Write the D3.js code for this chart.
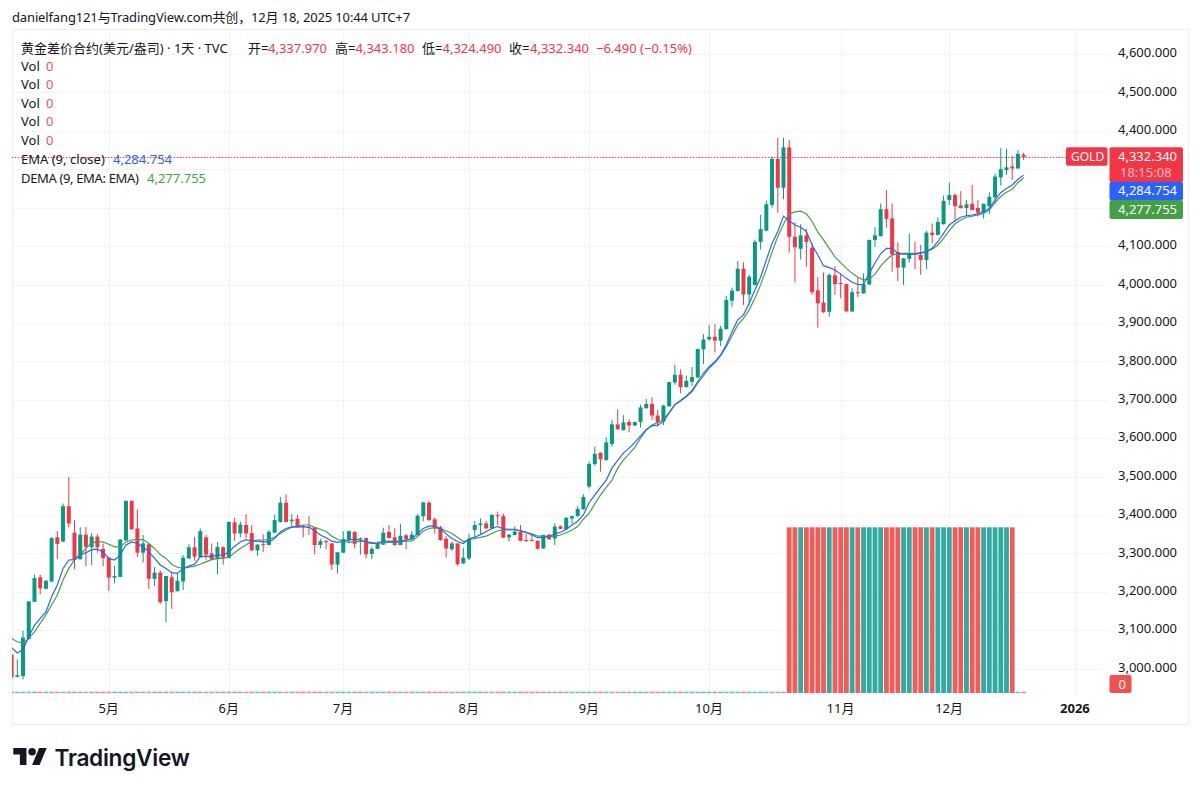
<!DOCTYPE html>
<html>
<head>
	<meta charset="utf-8">
	<title>GOLD 1D</title>
	<script type="text/javascript" src="https://cdn.jsdelivr.net/npm/d3@7"></script>
	<style type="text/css">
		html, body {
			margin: 0;
			background: #ffffff;
		}
		text {
			font-family: "Noto Sans", "Noto Sans CJK SC", sans-serif;
			font-size: 13px;
			fill: #131722;
		}
		.axis path {
			display: none;
		}
		.axis line {
			display: none;
		}
	</style>
</head>
<body>
	<div id="chart"></div>
	<script type="text/javascript">
		const opens = [
			3037,2979,2981,3077,3174,3238,3208,3227,3342,3331,
			3423,3354,3285,3349,3316,3344,3312,3289,3237,3239,
			3334,3437,3365,3302,3324,3234,3250,3176,3238,3202,
			3227,3287,3316,3291,3342,3300,3285,3316,3288,3381,
			3352,3374,3353,3308,3324,3322,3354,3382,3432,3384,
			3390,3371,3369,3368,3322,3332,3326,3271,3302,3335,
			3356,3337,3340,3299,3312,3323,3356,3342,3322,3347,
			3337,3348,3397,3432,3389,3368,3338,3311,3326,3274,
			3287,3361,3374,3378,3365,3400,3397,3342,3348,3357,
			3335,3335,3333,3313,3349,3339,3371,3363,3391,3397,
			3415,3474,3533,3562,3543,3585,3636,3621,3642,3633,
			3642,3678,3689,3659,3643,3683,3745,3765,3733,3747,
			3758,3831,3857,3864,3854,3884,3958,3983,4041,3974,
			3999,4111,4140,4207,4327,4252,4357,4124,4093,4128,
			4096,3985,3953,3929,4024,4004,4001,3930,3980,3977,
			4000,4116,4126,4196,4172,4085,4044,4067,4081,4077,
			4064,4135,4129,4157,4220,4233,4206,4199,4210,4199,
			4187,4204,4227,4279,4298,4307,4302,4337.97
		];
		const highs = [
			3037,3024,3099,3176,3245,3245,3231,3342,3358,3430,
			3499,3387,3368,3369,3353,3350,3326,3290,3268,3338,
			3437,3437,3415,3348,3326,3265,3255,3242,3252,3248,
			3296,3324,3343,3365,3348,3326,3330,3319,3383,3393,
			3383,3402,3374,3324,3350,3361,3400,3447,3454,3402,
			3400,3374,3397,3369,3338,3335,3327,3304,3358,3360,
			3358,3342,3341,3318,3331,3367,3374,3365,3377,3351,
			3358,3403,3434,3437,3394,3372,3345,3331,3327,3315,
			3351,3384,3391,3385,3403,3409,3404,3350,3370,3374,
			3351,3348,3334,3349,3351,3378,3373,3394,3398,3423,
			3454,3539,3578,3563,3602,3648,3675,3660,3649,3643,
			3687,3702,3707,3674,3687,3747,3791,3779,3763,3785,
			3833,3871,3895,3897,3892,3971,3992,4061,4058,4025,
			4117,4181,4218,4333,4382,4382,4376,4162,4157,4145,
			4107,4019,4031,4029,4048,4029,4002,3990,4019,4029,
			4117,4149,4211,4246,4211,4110,4069,4133,4112,4103,
			4140,4159,4175,4232,4265,4237,4243,4220,4259,4220,
			4211,4240,4289,4355,4353,4335,4350,4343.18
		];
		const lows = [
			2977,2977,2972,3076,3174,3194,3207,3226,3285,3329,
			3368,3259,3284,3267,3270,3302,3267,3202,3222,3238,
			3332,3361,3290,3276,3208,3216,3169,3121,3156,3200,
			3205,3286,3281,3290,3284,3283,3246,3271,3287,3333,
			3342,3340,3307,3294,3304,3321,3353,3380,3381,3371,
			3366,3342,3348,3298,3313,3311,3257,3248,3301,3326,
			3313,3297,3287,3285,3311,3322,3339,3319,3321,3311,
			3336,3347,3384,3384,3352,3333,3289,3307,3268,3273,
			3283,3337,3351,3364,3364,3374,3340,3331,3347,3332,
			3331,3332,3311,3312,3336,3322,3363,3362,3378,3396,
			3414,3469,3528,3513,3542,3578,3622,3620,3615,3632,
			3628,3677,3648,3630,3634,3682,3739,3717,3732,3736,
			3757,3793,3854,3823,3840,3883,3942,3982,3947,3947,
			3998,4091,4139,4200,4187,4222,4083,4006,4065,4046,
			3973,3888,3926,3916,3973,3964,3929,3929,3967,3976,
			3999,4098,4125,4148,4033,4009,3999,4057,4040,4025,
			4040,4107,4128,4156,4207,4164,4198,4178,4193,4177,
			4172,4184,4211,4257,4285,4272,4301,4324.49
		];
		const closes = [
			2977,2983,3081,3175,3236,3209,3229,3340,3325,3423,
			3378,3284,3349,3317,3344,3316,3288,3237,3241,3336,
			3437,3363,3302,3326,3234,3250,3173,3241,3199,3229,
			3289,3316,3292,3358,3297,3284,3317,3289,3382,3352,
			3375,3352,3308,3323,3322,3356,3387,3432,3382,3388,
			3368,3369,3368,3322,3332,3329,3271,3303,3338,3358,
			3325,3339,3298,3312,3326,3354,3340,3322,3346,3337,
			3349,3398,3433,3387,3365,3335,3313,3326,3272,3289,
			3338,3374,3378,3365,3400,3397,3341,3349,3357,3333,
			3332,3333,3312,3348,3337,3370,3364,3393,3397,3416,
			3447,3533,3559,3545,3589,3636,3623,3641,3633,3642,
			3680,3689,3659,3641,3685,3746,3765,3733,3749,3759,
			3832,3857,3864,3854,3885,3960,3984,4041,3974,4020,
			4111,4144,4209,4327,4252,4357,4124,4097,4128,4111,
			3980,3951,3928,4025,4001,4001,3930,3980,3977,4001,
			4116,4128,4196,4171,4079,4044,4068,4081,4078,4064,
			4135,4129,4163,4218,4233,4204,4199,4209,4194,4187,
			4210,4228,4281,4300,4305,4302,4340,4332.34
		];
		const ema = [
			3055,3041,3050,3083,3113,3131,3148,3187,3218,3261,
			3283,3284,3296,3302,3310,3311,3304,3287,3283,3296,
			3322,3330,3326,3317,3304,3287,3270,3261,3250,3248,
			3261,3267,3272,3291,3293,3291,3296,3296,3304,3319,
			3330,3336,3332,3332,3330,3330,3339,3356,3365,3369,
			3369,3370,3368,3359,3348,3341,3332,3329,3331,3335,
			3337,3335,3329,3326,3327,3332,3332,3331,3332,3335,
			3338,3351,3365,3371,3372,3364,3351,3339,3331,3326,
			3338,3342,3349,3357,3365,3370,3364,3363,3363,3359,
			3355,3348,3341,3342,3344,3351,3355,3363,3374,3384,
			3400,3432,3452,3472,3491,3522,3542,3561,3574,3589,
			3606,3623,3632,3634,3643,3665,3687,3698,3710,3724,
			3747,3769,3786,3799,3817,3843,3877,3908,3921,3951,
			3986,4019,4064,4107,4138,4178,4166,4155,4149,4138,
			4103,4077,4049,4044,4038,4027,4016,4006,4000,4000,
			4029,4056,4080,4094,4094,4081,4079,4079,4079,4081,
			4086,4094,4112,4133,4155,4166,4175,4179,4181,4184,
			4190,4198,4220,4239,4250,4259,4274,4284.754
		];
		const dema = [
			3079,3070,3066,3079,3096,3118,3140,3166,3192,3231,
			3261,3283,3296,3313,3328,3330,3330,3324,3317,3317,
			3330,3335,3336,3336,3326,3313,3297,3287,3272,3264,
			3261,3264,3267,3272,3278,3284,3287,3287,3290,3302,
			3313,3322,3332,3335,3335,3336,3343,3352,3361,3368,
			3371,3374,3374,3368,3363,3357,3345,3337,3331,3329,
			3331,3332,3331,3328,3326,3328,3329,3329,3331,3332,
			3332,3344,3358,3365,3367,3364,3359,3352,3342,3331,
			3335,3339,3342,3345,3352,3359,3361,3361,3361,3359,
			3355,3351,3345,3345,3344,3345,3348,3354,3361,3370,
			3389,3404,3429,3452,3472,3491,3522,3543,3559,3576,
			3600,3621,3634,3641,3648,3667,3687,3697,3708,3721,
			3743,3762,3782,3797,3814,3838,3866,3895,3912,3934,
			3964,3999,4040,4085,4125,4157,4184,4189,4191,4184,
			4164,4137,4116,4094,4072,4057,4042,4029,4019,4012,
			4014,4027,4048,4064,4077,4079,4081,4081,4081,4083,
			4086,4092,4103,4120,4140,4158,4168,4175,4178,4181,
			4185,4194,4213,4229,4240,4248,4265,4277.755
		];
		const volume = [
			0,0,0,0,0,0,0,0,0,0, 0,0,0,0,0,0,0,0,0,0,
			0,0,0,0,0,0,0,0,0,0, 0,0,0,0,0,0,0,0,0,0,
			0,0,0,0,0,0,0,0,0,0, 0,0,0,0,0,0,0,0,0,0,
			0,0,0,0,0,0,0,0,0,0, 0,0,0,0,0,0,0,0,0,0,
			0,0,0,0,0,0,0,0,0,0, 0,0,0,0,0,0,0,0,0,0,
			0,0,0,0,0,0,0,0,0,0, 0,0,0,0,0,0,0,0,0,0,
			0,0,0,0,0,0,0,0,0,0, 0,0,0,0,0,0,
			1,1,1,1,1,1,1,1,1,1, 1,1,1,1,1,1,1,1,1,1,
			1,1,1,1,1,1,1,1,1,1, 1,1,1,1,1,1,1,1,1,1,
			0,0
		];
		const gridTicks = [3000,3100,3200,3300,3400,3500,3600,3700,3800,3900,4000,4100,4200,4300,4400,4500,4600];
		const priceTicks = [3000,3100,3200,3300,3400,3500,3600,3700,3800,3900,4000,4100,4400,4500,4600];
		const timeTicks = [17,38,58,80,101,122,145,164,186];
		const timeLabels = ["5月","6月","7月","8月","9月","10月","11月","12月","2026"];
		const legendVolCount = [0,0,0,0,0];

		const UP = "#089981";
		const DOWN = "#f23645";
		const VOL_UP = "#26a69a";
		const VOL_DOWN = "#ef5350";
		const BLUE = "#2962ff";
		const GREEN = "#43a047";
		const GRID = "#f2f3f5";
		const BORDER = "#eceef1";

		const width = 1200;
		const height = 791;
		const frame = {left: 12, top: 29, right: 1188, bottom: 724};
		const plot = {left: 12, top: 29, right: 1108.5, bottom: 697};

		const x = d3.scaleLinear().domain([0, 186]).range([11.6, 1075.1]);
		const y = d3.scaleLinear().domain([3000, 4600]).range([668.7, 54]);
		const yVol = d3.scaleLinear().domain([0, 1]).range([693, 527.3]);

		const svg = d3.select("#chart").append("svg")
			.attr("width", width)
			.attr("height", height)
			.style("display", "block");

		svg.append("text")
			.attr("x", 12)
			.attr("y", 22)
			.style("letter-spacing", "-0.14px")
			.text("danielfang121与TradingView.com共创，12月 18, 2025 10:44 UTC+7");

		svg.append("rect")
			.attr("x", frame.left + 0.5)
			.attr("y", frame.top + 0.5)
			.attr("width", frame.right - frame.left)
			.attr("height", frame.bottom - frame.top)
			.attr("fill", "none")
			.attr("stroke", BORDER);

		// grid
		svg.append("g").selectAll("line").data(gridTicks).join("line")
			.attr("x1", plot.left)
			.attr("x2", plot.right)
			.attr("y1", d => Math.round(y(d)) + 0.5)
			.attr("y2", d => Math.round(y(d)) + 0.5)
			.attr("stroke", GRID);

		svg.append("g").selectAll("line").data(timeTicks).join("line")
			.attr("x1", d => Math.round(x(d)) + 0.5)
			.attr("x2", d => Math.round(x(d)) + 0.5)
			.attr("y1", plot.top)
			.attr("y2", plot.bottom)
			.attr("stroke", GRID);

		svg.append("clipPath").attr("id", "plot-clip").append("rect")
			.attr("x", plot.left)
			.attr("y", plot.top)
			.attr("width", plot.right - plot.left)
			.attr("height", plot.bottom - plot.top);

		const pane = svg.append("g").attr("clip-path", "url(#plot-clip)");
		const days = d3.range(closes.length);
		const isUp = i => closes[i] >= opens[i];

		// volume bars, the zero ones still show as a thin dash
		pane.append("g").selectAll("rect").data(days).join("rect")
			.attr("x", i => x(i) - 2.4)
			.attr("width", 4.8)
			.attr("y", i => volume[i] > 0 ? yVol(volume[i]) : yVol(0) - 1.3)
			.attr("height", i => volume[i] > 0 ? yVol(0) - yVol(volume[i]) : 1.5)
			.attr("fill", i => isUp(i) ? VOL_UP : VOL_DOWN)
			.attr("opacity", i => volume[i] > 0 ? 0.95 : 0.7);

		// last price line
		const lastY = Math.round(y(closes[closes.length - 1])) + 0.5;
		pane.append("line")
			.attr("x1", plot.left)
			.attr("x2", 1066)
			.attr("y1", lastY)
			.attr("y2", lastY)
			.attr("stroke", DOWN)
			.attr("stroke-opacity", 0.25);

		pane.append("line")
			.attr("x1", plot.left)
			.attr("x2", 1066)
			.attr("y1", lastY)
			.attr("y2", lastY)
			.attr("stroke", DOWN)
			.attr("stroke-dasharray", "1 2");

		// candles
		const candles = pane.append("g").selectAll("g").data(days).join("g")
			.attr("fill", i => isUp(i) ? UP : DOWN);

		candles.append("rect")
			.attr("x", i => x(i) - 0.5)
			.attr("width", 1)
			.attr("y", i => y(highs[i]))
			.attr("height", i => y(lows[i]) - y(highs[i]));

		candles.append("rect")
			.attr("x", i => x(i) - 2)
			.attr("width", 4)
			.attr("y", i => y(Math.max(opens[i], closes[i])))
			.attr("height", i => Math.max(1, Math.abs(y(opens[i]) - y(closes[i]))));

		// moving averages
		const line = d3.line().x((d, i) => x(i)).y(d => y(d));

		pane.append("path")
			.attr("d", line(dema))
			.attr("fill", "none")
			.attr("stroke", GREEN)
			.attr("stroke-width", 1.2);

		pane.append("path")
			.attr("d", line(ema))
			.attr("fill", "none")
			.attr("stroke", BLUE)
			.attr("stroke-width", 1.2);

		// legend
		const legend = svg.append("g");
		const legendLabel = function (x0, y0, label, color) {
			return legend.append("text")
				.attr("x", x0)
				.attr("y", y0)
				.style("fill", color)
				.text(label);
		};

		legendLabel(21, 52.5, "黄金差价合约(美元/盎司) · 1天 · TVC", "#131722");
		legendLabel(248, 52.5, "开=", "#131722");
		legendLabel(268, 52.5, "4,337.970", DOWN);
		legendLabel(335, 52.5, "高=", "#131722");
		legendLabel(355.5, 52.5, "4,343.180", DOWN);
		legendLabel(422, 52.5, "低=", "#131722");
		legendLabel(442.5, 52.5, "4,324.490", DOWN);
		legendLabel(509, 52.5, "收=", "#131722");
		legendLabel(530, 52.5, "4,332.340", DOWN);
		legendLabel(596, 52.5, "−6.490 (−0.15%)", DOWN);

		legendVolCount.forEach(function (d, i) {
			legendLabel(21, 70.5 + i * 18.6, "Vol", "#131722");
			legendLabel(46, 70.5 + i * 18.6, d, VOL_DOWN);
		});

		legendLabel(21, 164, "EMA (9, close)", "#131722");
		legendLabel(113, 164, "4,284.754", BLUE);
		legendLabel(21, 182.5, "DEMA (9, EMA: EMA)", "#131722").style("letter-spacing", "-0.35px");
		legendLabel(147, 182.5, "4,277.755", GREEN);

		// price axis
		svg.append("g")
			.attr("class", "axis")
			.attr("transform", "translate(1118,-1.5)")
			.call(d3.axisRight(y)
				.tickValues(priceTicks)
				.tickFormat(d3.format(",.3f"))
				.tickSize(0)
				.tickPadding(0))
			.call(g => g.selectAll("text").style("font-size", "13px").style("font-family", "\"Noto Sans\", sans-serif").style("fill", "#131722"));

		// time axis
		svg.append("g")
			.attr("class", "axis")
			.attr("transform", "translate(-0.7,703.5)")
			.call(d3.axisBottom(x)
				.tickValues(timeTicks)
				.tickFormat((d, i) => timeLabels[i])
				.tickSize(0)
				.tickPadding(0))
			.call(g => g.selectAll("text")
				.style("font-size", "13px")
				.style("font-family", "\"Noto Sans\", \"Noto Sans CJK SC\", sans-serif")
				.style("fill", "#131722")
				.style("font-weight", d => d === 186 ? 700 : 400));

		// price labels on the axis
		const addTag = function (x0, y0, w, h, color) {
			return svg.append("rect")
				.attr("x", x0)
				.attr("y", y0)
				.attr("width", w)
				.attr("height", h)
				.attr("rx", 2)
				.attr("fill", color);
		};
		const addTagText = function (x0, y0, label, color) {
			return svg.append("text")
				.attr("x", x0)
				.attr("y", y0)
				.style("fill", color)
				.text(label);
		};

		addTag(1066, 147.3, 41.5, 18.5, DOWN);
		addTagText(1071, 161, "GOLD", "#ffffff").style("font-size", "12px");
		addTag(1109.5, 147.3, 73.5, 35, DOWN);
		addTag(1109.5, 181.7, 73.5, 18.6, BLUE);
		addTag(1109.5, 200, 73.5, 19, GREEN);
		addTagText(1118, 161.3, "4,332.340", "#ffffff");
		addTagText(1120, 177, "18:15:08", "rgba(255,255,255,0.7)");
		addTagText(1118, 195.3, "4,284.754", "#ffffff");
		addTagText(1118, 214, "4,277.755", "#ffffff");
		addTag(1109.5, 675, 22, 18, VOL_DOWN);
		addTagText(1118.5, 689, "0", "#ffffff");

		// logo
		const logo = svg.append("g").attr("transform", "translate(13.3,744.2) scale(0.94)").attr("fill", "#131722");
		logo.append("path").attr("d", "M14 22H7V11H0V4h14v18zM28 22h-8l7.5-18h8L28 22z");
		logo.append("circle").attr("cx", 20).attr("cy", 8).attr("r", 4);
		svg.append("text")
			.attr("x", 54.5)
			.attr("y", 765.5)
			.style("font-family", "Inter, sans-serif")
			.style("font-size", "22.7px")
			.style("font-weight", 600)
			.style("letter-spacing", "-0.3px")
			.text("TradingView");
	</script>
</body>
</html>
